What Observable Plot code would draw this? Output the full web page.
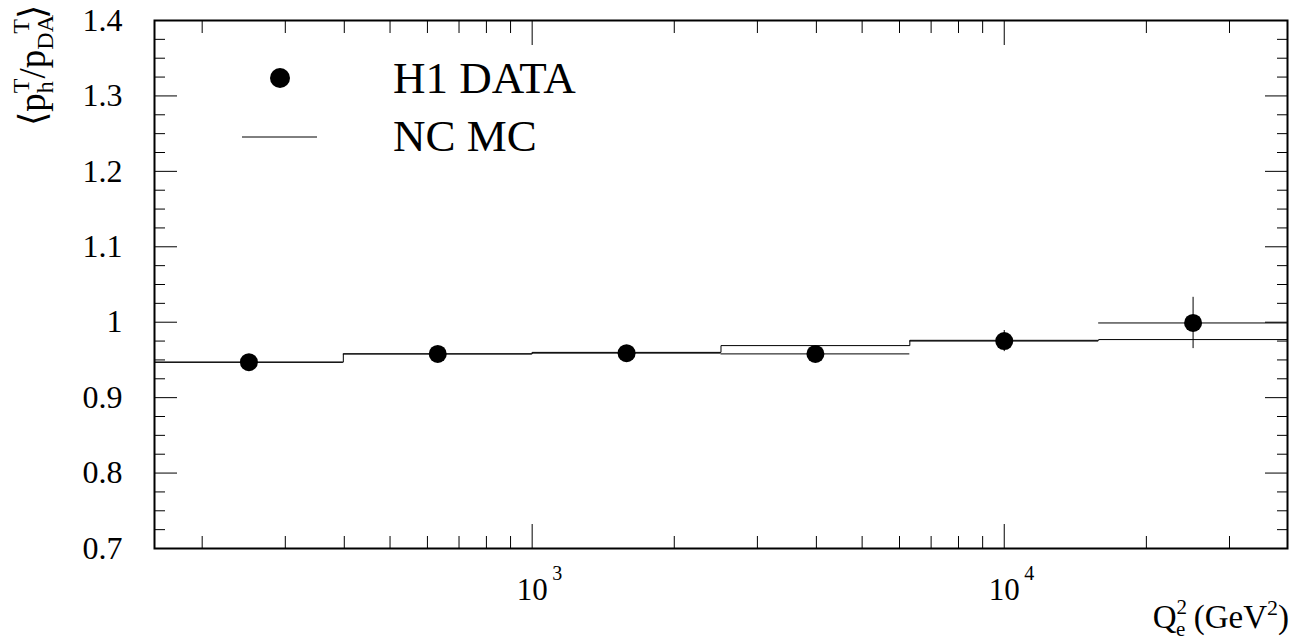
<!DOCTYPE html>
<html>
<head>
<meta charset="utf-8">
<script src="https://cdn.jsdelivr.net/npm/d3@7"></script>
<script src="https://cdn.jsdelivr.net/npm/@observablehq/plot@0.6"></script>
<style>
  html, body { margin: 0; padding: 0; background: #fff; }
  #chart svg { display: block; }
  #chart svg text, #chart svg tspan { font-family: "Liberation Serif", "Times New Roman", Times, serif !important; }
</style>
</head>
<body>
<div id="chart"></div>
<script>
// Q² bin edges in GeV² (equal steps of 0.4 in log10 Q²)
const binEdges = [158.5, 398.1, 1000, 2511.9, 6309.6, 15848.9, 39810.7];
// log-centre of each bin, where the data points sit
const binCentres = [251.2, 631.0, 1584.9, 3981.1, 10000, 25118.9];
// H1 data: mean transverse-momentum ratio and its statistical error
const dataMean = [0.947, 0.958, 0.959, 0.958, 0.975, 0.999];
const dataErr = [0.003, 0.003, 0.004, 0.004, 0.014, 0.034];
// NC Monte Carlo prediction per bin
const mcMean = [0.947, 0.958, 0.960, 0.969, 0.976, 0.977];

// axis ticks and their labels
const xMajorTicks = [1000, 10000];
const xTickBase = ["10", "10"];
const xTickExp = ["3", "4"];
const xMinorTicks = [200, 300, 400, 500, 600, 700, 800, 900,
  2000, 3000, 4000, 5000, 6000, 7000, 8000, 9000, 20000, 30000];
const yMajorTicks = [0.7, 0.8, 0.9, 1.0, 1.1, 1.2, 1.3, 1.4];
const yTickLabels = ["0.7", "0.8", "0.9", "1", "1.1", "1.2", "1.3", "1.4"];
const yMinorTicks = [0.725, 0.75, 0.775, 0.825, 0.85, 0.875, 0.925, 0.95, 0.975,
  1.025, 1.05, 1.075, 1.125, 1.15, 1.175, 1.225, 1.25, 1.275, 1.325, 1.35, 1.375];

const yLabelOf = new Map(yMajorTicks.map((v, i) => [v, yTickLabels[i]]));

const bins = binCentres.map((c, i) => ({
  c, lo: binEdges[i], hi: binEdges[i + 1], v: dataMean[i], e: dataErr[i]
}));
// histogram outline: one vertex per bin edge, last edge repeats the last value
const mcSteps = binEdges.map((q, i) => ({ q, v: mcMean[Math.min(i, mcMean.length - 1)] }));

const FONT = "Liberation Serif, Times New Roman, Times, serif";
const W = 1293, H = 641;

const chart = Plot.plot({
  width: W,
  height: H,
  marginLeft: 154,
  marginRight: 6,
  marginTop: 20,
  marginBottom: 93,
  style: { fontFamily: FONT, fontSize: "30px", color: "#000", background: "#fff" },
  x: { type: "log", domain: [binEdges[0], binEdges[binEdges.length - 1]] },
  y: { domain: [0.7, 1.4] },
  marks: [
    // y tick labels
    Plot.axisY(yMajorTicks, { anchor: "left", tickSize: 0, tickPadding: 32, tickFormat: d => yLabelOf.get(d), label: null, fontSize: 32, fontFamily: FONT, fontVariant: "normal" }),
    // inward ticks on all four sides
    Plot.axisY(yMajorTicks, { anchor: "left", tickSize: -23, fill: "none", label: null }),
    Plot.axisY(yMinorTicks, { anchor: "left", tickSize: -11, fill: "none", label: null }),
    Plot.axisY(yMajorTicks, { anchor: "right", tickSize: -23, fill: "none", label: null }),
    Plot.axisY(yMinorTicks, { anchor: "right", tickSize: -11, fill: "none", label: null }),
    Plot.axisX(xMajorTicks, { anchor: "bottom", tickSize: -24, fill: "none", label: null }),
    Plot.axisX(xMinorTicks, { anchor: "bottom", tickSize: -12, fill: "none", label: null }),
    Plot.axisX(xMajorTicks, { anchor: "top", tickSize: -24, fill: "none", label: null }),
    Plot.axisX(xMinorTicks, { anchor: "top", tickSize: -12, fill: "none", label: null }),
    // x tick labels as 10^n
    Plot.text(xMajorTicks, { x: d => d, text: (d, i) => xTickBase[i], frameAnchor: "bottom", lineAnchor: "bottom", dy: 51, fontSize: 31, fontFamily: FONT }),
    Plot.text(xMajorTicks, { x: d => d, text: (d, i) => xTickExp[i], frameAnchor: "bottom", lineAnchor: "bottom", textAnchor: "start", dx: 20, dy: 31, fontSize: 20, fontFamily: FONT }),
    // NC MC histogram
    Plot.line(mcSteps, { x: "q", y: "v", curve: "step-after", stroke: "#000", strokeWidth: 1 }),
    // data: bin-width bars, error bars, markers
    Plot.ruleY(bins, { y: "v", x1: "lo", x2: "hi", stroke: "#000", strokeWidth: 1 }),
    Plot.ruleX(bins, { x: "c", y1: d => d.v - d.e, y2: d => d.v + d.e, stroke: "#000", strokeWidth: 1 }),
    Plot.dot(bins, { x: "c", y: "v", r: 9, fill: "#000", stroke: "none" }),
    Plot.frame({ stroke: "#000", strokeWidth: 2 })
  ]
});

document.getElementById("chart").appendChild(chart);

const svg = d3.select(chart);
svg.selectAll("text, tspan").style("font-family", FONT);

// x-axis title: Q²_e (GeV²)
const xt = svg.append("text")
  .attr("x", 1289).attr("y", 628)
  .attr("text-anchor", "end")
  .attr("font-family", FONT).attr("font-size", 33).attr("fill", "#000");
xt.append("tspan").text("Q");
xt.append("tspan").attr("font-size", 21).attr("dy", -14).text("2");
xt.append("tspan").attr("font-size", 21).attr("dx", -11).attr("dy", 22).text("e");
xt.append("tspan").attr("dy", -8).text("\u00a0(GeV");
xt.append("tspan").attr("font-size", 22).attr("dy", -13).text("2");
xt.append("tspan").attr("dy", 13).text(")");

// y-axis title: ⟨p_h^T / p_DA^T⟩
const yt = svg.append("text")
  .attr("transform", "translate(45,5) rotate(-90)")
  .attr("text-anchor", "end")
  .attr("font-family", FONT).attr("font-size", 37).attr("fill", "#000");
yt.append("tspan").text("\u27e8p");
yt.append("tspan").attr("font-size", 24).attr("dy", 8).text("h");
yt.append("tspan").attr("font-size", 24).attr("dx", -12).attr("dy", -24).text("T");
yt.append("tspan").attr("dy", 16).text("/p");
yt.append("tspan").attr("font-size", 24).attr("dy", 8).text("DA");
yt.append("tspan").attr("font-size", 24).attr("dx", -16).attr("dy", -24).text("T");
yt.append("tspan").attr("dy", 16).text("\u27e9");

// legend
const lg = svg.append("g")
  .attr("font-family", FONT).attr("font-size", 45).attr("fill", "#000")
  .attr("text-anchor", "start");
lg.append("circle").attr("cx", 280).attr("cy", 78).attr("r", 10).attr("fill", "#000");
lg.append("text").attr("x", 393).attr("y", 93).text("H1 DATA");
lg.append("line").attr("x1", 242).attr("x2", 317).attr("y1", 137).attr("y2", 137)
  .attr("stroke", "#000").attr("stroke-width", 1);
lg.append("text").attr("x", 393).attr("y", 151).text("NC MC");
</script>
</body>
</html>
